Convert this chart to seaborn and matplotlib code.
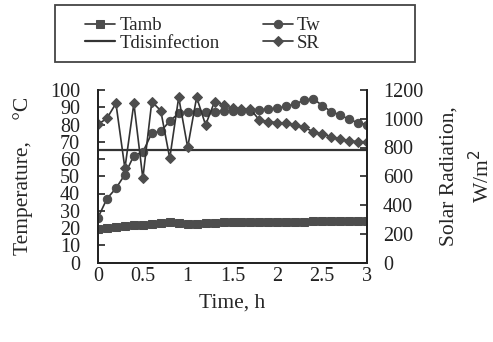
import matplotlib
matplotlib.use("Agg")
import matplotlib.pyplot as plt
from matplotlib.patches import Rectangle
import seaborn as sns
import pandas as pd

# Data
time_h = [0.0, 0.1, 0.2, 0.3, 0.4, 0.5, 0.6, 0.7, 0.8, 0.9, 1.0,
          1.1, 1.2, 1.3, 1.4, 1.5, 1.6, 1.7, 1.8, 1.9, 2.0,
          2.1, 2.2, 2.3, 2.4, 2.5, 2.6, 2.7, 2.8, 2.9, 3.0]
t_amb = [19.5, 20, 20.5, 21, 21.5, 22, 22.5, 23, 23.5, 23, 22.5,
         22.5, 23, 23, 23.5, 23.5, 23.5, 23.5, 23.5, 23.5, 23.5,
         23.5, 23.5, 23.5, 24, 24, 24, 24, 24, 24, 24]
t_w = [26, 37, 43, 51, 62, 64, 75, 76, 82, 86.5, 87.5,
       87.5, 87.5, 87.5, 88, 88, 88, 88, 88.5, 89, 89.5,
       90.5, 92, 94, 95, 91, 87.5, 85.5, 83, 81, 80]
t_dis = [65] * len(time_h)
sr = [961, 1003, 1107, 655, 1107, 586, 1119, 1056, 725, 1149, 801,
      1149, 957, 1119, 1096, 1073, 1066, 1066, 991, 980, 973,
      968, 957, 940, 910, 894, 875, 859, 847, 840, 840]

df = pd.DataFrame({'time': time_h, 'Tamb': t_amb, 'Tw': t_w,
                   'Tdis': t_dis, 'SR': sr})

sns.set_style('white')
plt.rcParams['font.family'] = ['Liberation Serif', 'DejaVu Serif']

line_c = '#333333'
mark_c = '#4d4d4d'
W, H = 493, 342

fig = plt.figure(figsize=(W / 100, H / 100), dpi=100)
ax = fig.add_axes([98 / W, 1 - 262.5 / H, 269 / W, 172.5 / H])
ax2 = ax.twinx()

sns.lineplot(data=df, x='time', y='Tamb', ax=ax, color=line_c, marker='s',
             markersize=6, markerfacecolor=mark_c, markeredgecolor=mark_c,
             linewidth=1.2, label='Tamb', legend=False)
sns.lineplot(data=df, x='time', y='Tdis', ax=ax, color=line_c,
             linewidth=1.6, label='Tdisinfection', legend=False)
sns.lineplot(data=df, x='time', y='Tw', ax=ax, color=line_c, marker='o',
             markersize=6, markerfacecolor=mark_c, markeredgecolor=mark_c,
             linewidth=1.2, label='Tw', legend=False)
sns.lineplot(data=df, x='time', y='SR', ax=ax2, color=line_c, marker='D',
             markersize=5, markerfacecolor=mark_c, markeredgecolor=mark_c,
             linewidth=1.2, label='SR', legend=False)

ax.set_xlim(0, 3)
ax.set_ylim(0, 100)
ax2.set_ylim(0, 1200)
ax.set_xticks([0, 0.5, 1, 1.5, 2, 2.5, 3])
ax.set_xticklabels(['0', '0.5', '1', '1.5', '2', '2.5', '3'])
ax.set_yticks(range(0, 101, 10))
ax2.set_yticks(range(0, 1201, 200))

for a in (ax, ax2):
    a.spines['top'].set_visible(False)
    for s in ('left', 'right', 'bottom'):
        a.spines[s].set_color('#222222')
        a.spines[s].set_linewidth(1.3)
ax.tick_params(axis='x', direction='in', length=5, width=1.2, pad=3,
               labelsize=14.5, colors='#222222')
ax.tick_params(axis='y', direction='in', length=5, width=1.2, pad=13,
               labelsize=14.5, colors='#222222')
ax2.tick_params(axis='y', direction='in', length=5, width=1.2, pad=11.5,
                labelsize=14.5, colors='#222222')

ax.set_xlabel('Time, h', fontsize=15.5, labelpad=6)
ax.set_ylabel('Temperature,    \u00b0C', fontsize=15.5, labelpad=12)
ax2.set_ylabel('Solar Radiation,\nW/m$^2$', fontsize=15.5,
               labelpad=12, linespacing=1.5, multialignment='center')

h1 = ax.get_legend_handles_labels()[0]
h2 = ax2.get_legend_handles_labels()[0]
handles = [h1[0], h1[1], h1[2], h2[0]]
labels = ['Tamb', 'Tdisinfection', 'Tw', 'SR']
fig.legend(handles, labels, ncol=2, loc='upper left',
           bbox_to_anchor=(76 / W, 1 - 8 / H),
           frameon=False, fontsize=13.5, borderpad=0,
           handlelength=1.6, handletextpad=0.2, labelspacing=0.0,
           columnspacing=2.3)
fig.patches.append(Rectangle((55 / W, 1 - 62 / H), 360 / W, 57 / H,
                             transform=fig.transFigure, fill=False,
                             edgecolor='#444444', linewidth=1.3))

fig.savefig('out.png', dpi=100)
